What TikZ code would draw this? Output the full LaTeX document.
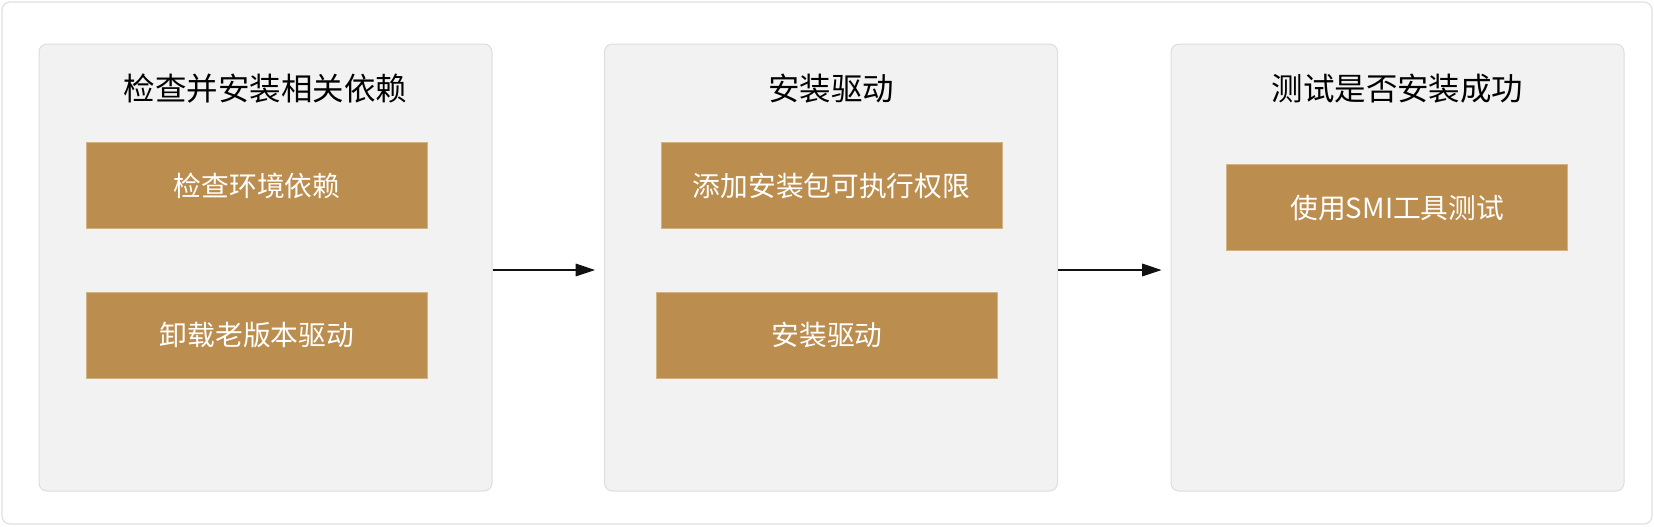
\documentclass[tikz,border=0pt]{standalone}
\usepackage{fontspec}
\setmainfont{Noto Sans CJK SC}
\usetikzlibrary{arrows.meta,calc}
\definecolor{groupfill}{HTML}{F2F2F2}
\definecolor{groupline}{HTML}{DDDDDD}
\definecolor{outerline}{HTML}{E0E0E0}
\definecolor{gold}{HTML}{BB8D4E}
\definecolor{goldline}{HTML}{D2B384}
\definecolor{arrowc}{HTML}{111111}
\tikzset{
  groupbox/.style={draw=groupline, fill=groupfill, line width=0.75pt, rounded corners=6pt,
    minimum width=453*0.75pt, minimum height=447*0.75pt, inner sep=0pt},
  titletext/.style={font=\fontsize{23.6}{28}\selectfont, text=black, inner sep=0pt},
  stepbox/.style={draw=goldline, fill=gold, line width=0.5pt, text=white,
    minimum width=341*0.75pt, minimum height=86*0.75pt, inner sep=0pt,
    font=\fontsize{20.8}{25}\selectfont},
  flow/.style={draw=arrowc, line width=0.8pt, -{Triangle[length=14.5pt,width=9.5pt]}}
}
\begin{document}
\begin{tikzpicture}[x=0.75pt,y=-0.75pt]
\useasboundingbox (0,0) rectangle (1654,526);
\draw[outerline, line width=0.9pt, rounded corners=6pt] (2,2) rectangle (1652,524);
\node[groupbox] (g1) at (265.5,267.5) {};
\node[groupbox] (g2) at (831,267.5) {};
\node[groupbox] (g3) at (1397.5,267.5) {};
\node[titletext] (t1) at (265.5,89) {检查并安装相关依赖};
\node[titletext] (t2) at (831,89) {安装驱动};
\node[titletext] (t3) at (1397.5,89) {测试是否安装成功};
\node[stepbox] (s1) at (257,185.5) {检查环境依赖};
\node[stepbox] (s2) at (257,335.3) {卸载老版本驱动};
\node[stepbox] (s3) at (831.5,185.5) {添加安装包可执行权限};
\node[stepbox] (s4) at (827,335.3) {安装驱动};
\node[stepbox, minimum height=85.5*0.75pt] (s5) at (1397.3,207.5) {使用SMI工具测试};
\draw[flow] ($(g1.east)+(0,2.5)$) -- ($(g2.west)+(-9,2.5)$);
\draw[flow] ($(g2.east)+(0,2.5)$) -- ($(g3.west)+(-9,2.5)$);
\end{tikzpicture}
\end{document}
